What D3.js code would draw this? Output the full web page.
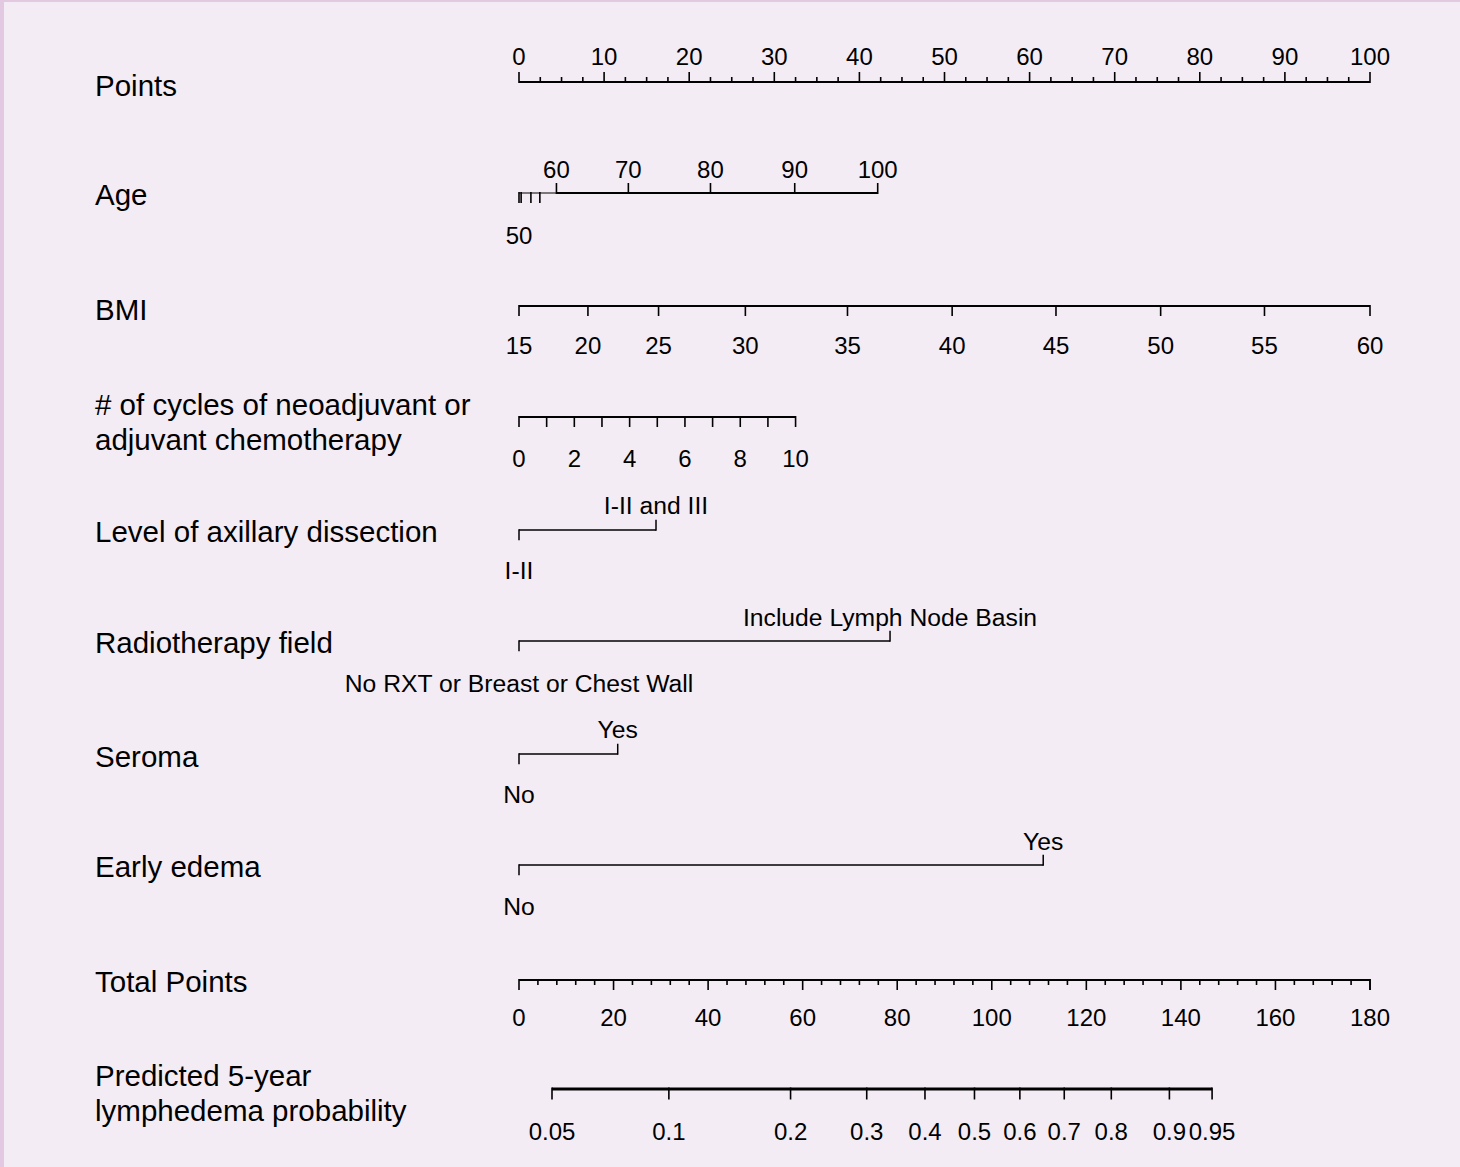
<!DOCTYPE html>
<html>
<head>
<meta charset="utf-8">
<script src="https://cdn.jsdelivr.net/npm/d3@7"></script>
<style>
  html, body { margin: 0; padding: 0; }
  body { width: 1460px; height: 1167px; overflow: hidden; }
  svg { display: block; }
  text { font-family: "Liberation Sans", Arial, Helvetica, sans-serif; fill: #000; }
</style>
</head>
<body>
<svg id="chart" width="1460" height="1167"></svg>
<script>
// ---------------- data ----------------
const rowLabels = [
  ["Points"],
  ["Age"],
  ["BMI"],
  ["# of cycles of neoadjuvant or", "adjuvant chemotherapy"],
  ["Level of axillary dissection"],
  ["Radiotherapy field"],
  ["Seroma"],
  ["Early edema"],
  ["Total Points"],
  ["Predicted 5-year", "lymphedema probability"]
];

const pointsMajor = [0, 10, 20, 30, 40, 50, 60, 70, 80, 90, 100];
const pointsMinorStep = 2.5;

const ageLabels = ["50", "", "", "", "60", "70", "80", "90", "100"];
const agePoints = [0, 0.25, 1.4, 2.45, 4.4, 12.85, 22.5, 32.4, 42.15];
const ageBelow  = [true, true, true, true, false, false, false, false, false];

const bmiValues = [15, 20, 25, 30, 35, 40, 45, 50, 55, 60];
const bmiPoints = [0, 8.1, 16.4, 26.6, 38.6, 50.9, 63.1, 75.4, 87.6, 100];

const cycleValues = [0, 1, 2, 3, 4, 5, 6, 7, 8, 9, 10];
const cyclePoints = [0, 3.25, 6.5, 9.75, 13, 16.25, 19.5, 22.75, 26, 29.25, 32.5];
const cycleLabeled = [0, 2, 4, 6, 8, 10];

const axillaryLevels = ["I-II", "I-II and III"];
const axillaryPoints = [0, 16.1];

const radioLevels = ["No RXT or Breast or Chest Wall", "Include Lymph Node Basin"];
const radioPoints = [0, 43.6];

const seromaLevels = ["No", "Yes"];
const seromaPoints = [0, 11.6];

const edemaLevels = ["No", "Yes"];
const edemaPoints = [0, 61.6];

const totalMajor = [0, 20, 40, 60, 80, 100, 120, 140, 160, 180];
const totalMinorStep = 4;

const probLabels = ["0.05", "0.1", "0.2", "0.3", "0.4", "0.5", "0.6", "0.7", "0.8", "0.9", "0.95"];
const probTotalPoints = [6.98, 31.7, 57.44, 73.55, 85.87, 96.34, 105.94, 115.33, 125.28, 137.57, 146.6];

// ---------------- layout ----------------
const svg = d3.select("#chart");
svg.append("rect").attr("width", 1460).attr("height", 1167).attr("fill", "#f4ecf4");
svg.append("rect").attr("x", 0).attr("y", 0).attr("width", 1460).attr("height", 2).attr("fill", "#e2c8e0");
svg.append("rect").attr("x", 0).attr("y", 0).attr("width", 4).attr("height", 1167).attr("fill", "#e2c8e0");

const X0 = 519, X1 = 1370;
const xPts = d3.scaleLinear().domain([0, 100]).range([X0, X1]);
const xTot = d3.scaleLinear().domain([0, 180]).range([X0, X1]);

const labelY = [86, 195, 310, [405, 440], 532, 643, 757, 867, 982, [1076, 1111]];
const lineY = { points: 82, age: 193, bmi: 306, cyc: 417, ax: 530, rad: 641, ser: 754, ede: 865, tot: 980, prob: 1089 };

const LABEL_FS = 29.5, TICK_FS = 24, CAT_FS = 24.7;
const ink = "#000";

// left labels
rowLabels.forEach((lines, i) => {
  const ys = Array.isArray(labelY[i]) ? labelY[i] : [labelY[i]];
  lines.forEach((t, j) => {
    svg.append("text").attr("x", 95).attr("y", ys[j]).attr("dy", "0.35em")
      .attr("font-size", LABEL_FS).text(t);
  });
});

function hline(x1, x2, y, w) {
  svg.append("line").attr("x1", x1).attr("x2", x2).attr("y1", y).attr("y2", y)
    .attr("stroke", ink).attr("stroke-width", w);
}
function vtick(x, y, len, w) {
  svg.append("line").attr("x1", x).attr("x2", x).attr("y1", y).attr("y2", y + len)
    .attr("stroke", ink).attr("stroke-width", w);
}
function label(x, y, t, fs) {
  svg.append("text").attr("x", x).attr("y", y).attr("dy", "0.35em")
    .attr("text-anchor", "middle").attr("font-size", fs || TICK_FS).text(t);
}

// Points axis
{
  const y = lineY.points;
  hline(xPts(0), xPts(100), y, 2);
  d3.range(0, 100 + 1e-9, pointsMinorStep).forEach(v => {
    const major = pointsMajor.includes(v);
    vtick(xPts(v), y + 1, major ? -11 : -6, 1.6);
  });
  pointsMajor.forEach(v => label(xPts(v), 57, v));
}

// Age axis (non-linear)
{
  const y = lineY.age;
  const xs = agePoints.map(xPts);
  hline(xs[0], xs[4], y, 1.2);
  hline(xs[4], xs[xs.length - 1], y, 2);
  agePoints.forEach((p, i) => {
    const x = xPts(p);
    vtick(x, ageBelow[i] ? y - 1 : y + 1, ageBelow[i] ? 11 : -11, 1.6);
    if (ageLabels[i]) label(x, ageBelow[i] ? 236 : 170, ageLabels[i]);
  });
}

// BMI axis (non-linear, polylinear scale)
{
  const y = lineY.bmi;
  const bmiScale = d3.scaleLinear().domain(bmiValues).range(bmiPoints.map(xPts));
  hline(bmiScale(15), bmiScale(60), y, 2);
  bmiValues.forEach(v => {
    vtick(bmiScale(v), y - 1, 11, 1.6);
    label(bmiScale(v), 346, v);
  });
}

// cycles axis
{
  const y = lineY.cyc;
  const cycScale = d3.scaleLinear().domain(cycleValues).range(cyclePoints.map(xPts));
  hline(cycScale(0), cycScale(10), y, 2);
  cycleValues.forEach(v => vtick(cycScale(v), y - 1, 11, 1.6));
  cycleLabeled.forEach(v => label(cycScale(v), 459, v));
}

// categorical rows
function catRow(levels, pts, y, aboveY, belowY) {
  const x0 = xPts(pts[0]), x1 = xPts(pts[1]);
  hline(x0, x1, y, 1.5);
  vtick(x0, y - 0.75, 11, 1.5);
  vtick(x1, y + 0.75, -11, 1.5);
  label(x0, belowY, levels[0], CAT_FS);
  label(x1, aboveY, levels[1], CAT_FS);
}
catRow(axillaryLevels, axillaryPoints, lineY.ax, 505, 570);
catRow(radioLevels, radioPoints, lineY.rad, 617, 683);
catRow(seromaLevels, seromaPoints, lineY.ser, 729, 794);
catRow(edemaLevels, edemaPoints, lineY.ede, 841, 906);

// Total points axis
{
  const y = lineY.tot;
  hline(xTot(0), xTot(180), y, 2);
  d3.range(0, 180 + 1e-9, totalMinorStep).forEach(v => {
    const major = totalMajor.includes(v);
    vtick(xTot(v), y - 1, major ? 11 : 6, 1.6);
  });
  vtick(xTot(180), y - 1, 11, 1.6);
  totalMajor.forEach(v => label(xTot(v), 1018, v));
}

// probability axis
{
  const y = lineY.prob;
  const xs = probTotalPoints.map(xTot);
  hline(xs[0], xs[xs.length - 1], y, 3);
  probTotalPoints.forEach((p, i) => {
    vtick(xTot(p), y - 1.5, 12, 1.6);
    label(xTot(p), 1132, probLabels[i]);
  });
}
</script>
</body>
</html>
